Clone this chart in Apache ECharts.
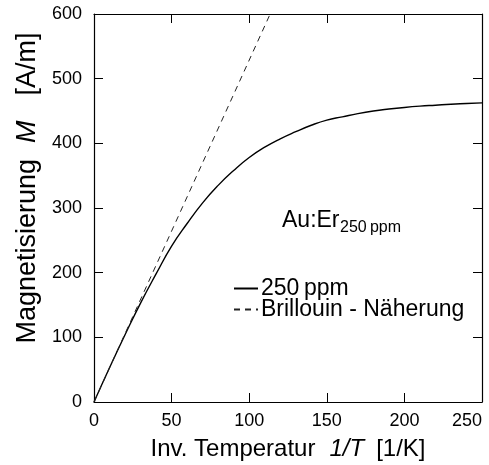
<!DOCTYPE html>
<html>
<head>
<meta charset="utf-8">
<script src="https://cdn.jsdelivr.net/npm/echarts@6/dist/echarts.min.js"></script>
<style>html,body{margin:0;padding:0;background:#fff}#c{width:489px;height:465px}</style>
</head>
<body>
<div id="c"></div>
<script>
// Inverse temperature 1/T [1/K]
var invT = [0,10,20,30,40,50,60,70,80,90,100,110,120,130,140,150,160,170,180,190,200,210,220,230,240,250];
// Magnetisation M [A/m], 250 ppm
var m250 = [0,53,104,153,198,241,276,308,335,358,378,394,407,418,428,436,441,446,450,453,455.5,457.5,459,460.5,461.5,462.5];
// Brillouin approximation (linear, Curie law)
var brillX = [0,113.5];
var brillM = [0,600];
var xTicks = [0,50,100,150,200,250];
var yTicks = [0,100,200,300,400,500,600];

var FONT = 'Liberation Sans, Arial, Helvetica, sans-serif';
function pairs(xs, ys){ return xs.map(function(x,i){ return [x, ys[i]]; }); }

var chart = echarts.init(document.getElementById('c'), null, {renderer:'canvas'});
function tick(){ return {show:true, inside:true, length:9, lineStyle:{color:'#000', width:1}}; }
function axLine(){ return {show:true, onZero:false, lineStyle:{color:'#000', width:1.2}}; }
chart.setOption({
  animation:false,
  backgroundColor:'#fff',
  grid:{left:94, right:7, top:14, bottom:63, containLabel:false, outerBoundsMode:'none'},
  title:[{
    left:282, top:209, padding:0,
    text:'Au:Er',
    textStyle:{fontFamily:FONT, fontSize:23, fontWeight:'normal', color:'#000'}
  },{
    left:340, top:220, padding:0,
    text:'250\u2009ppm',
    textStyle:{fontFamily:FONT, fontSize:16, fontWeight:'normal', color:'#000'}
  }],
  legend:{
    orient:'vertical', left:233, top:277, padding:0, itemGap:-2,
    itemWidth:24, itemHeight:10,
    itemStyle:{opacity:0},
    textStyle:{fontFamily:FONT, fontSize:23, color:'#000', padding:[0,0,0,-2]},
    data:['250\u2009ppm','Brillouin - N\u00e4herung']
  },
  xAxis:[{
    type:'value', min:0, max:250, interval:50,
    name:'{n|Inv. Temperatur}{i|1/T}{n|[1/K]}',
    nameLocation:'middle', nameGap:35,
    nameTextStyle:{rich:{
      n:{fontFamily:FONT, fontSize:24, color:'#000'},
      i:{fontFamily:FONT, fontSize:24, color:'#000', fontStyle:'italic', padding:[0,12,0,14]}
    }},
    axisLine:axLine(), axisTick:tick(), splitLine:{show:false},
    axisLabel:{fontFamily:FONT, fontSize:18, color:'#000', margin:10, alignMaxLabel:'right',
      formatter:function(v){ return xTicks.indexOf(v) >= 0 ? String(v) : ''; }}
  },{
    type:'value', min:0, max:250, interval:50, position:'top',
    axisLine:axLine(), axisTick:tick(), axisLabel:{show:false}, splitLine:{show:false}
  }],
  yAxis:[{
    type:'value', min:0, max:600, interval:100,
    name:'{n|Magnetisierung}{i|M}{n|[A/m]}',
    nameLocation:'middle', nameGap:53,
    nameTextStyle:{padding:[0,0,0,40], rich:{
      n:{fontFamily:FONT, fontSize:27, color:'#000'},
      i:{fontFamily:FONT, fontSize:27, color:'#000', fontStyle:'italic', padding:[0,25,0,16]}
    }},
    axisLine:axLine(), axisTick:tick(), splitLine:{show:false},
    axisLabel:{fontFamily:FONT, fontSize:18, color:'#000', margin:12,
      formatter:function(v){ return yTicks.indexOf(v) >= 0 ? String(v) : ''; }}
  },{
    type:'value', min:0, max:600, interval:100, position:'right',
    axisLine:axLine(), axisTick:tick(), axisLabel:{show:false}, splitLine:{show:false}
  }],
  series:[{
    name:'250\u2009ppm', type:'line', data:pairs(invT, m250), smooth:true,
    symbol:'none', clip:true,
    lineStyle:{color:'#000', width:1.4}, itemStyle:{color:'#000'}
  },{
    name:'Brillouin - N\u00e4herung', type:'line', data:pairs(brillX, brillM),
    symbol:'none', clip:true,
    lineStyle:{color:'#222', width:1, type:[6,5]}, itemStyle:{color:'#222'}
  }]
});
</script>
</body>
</html>
